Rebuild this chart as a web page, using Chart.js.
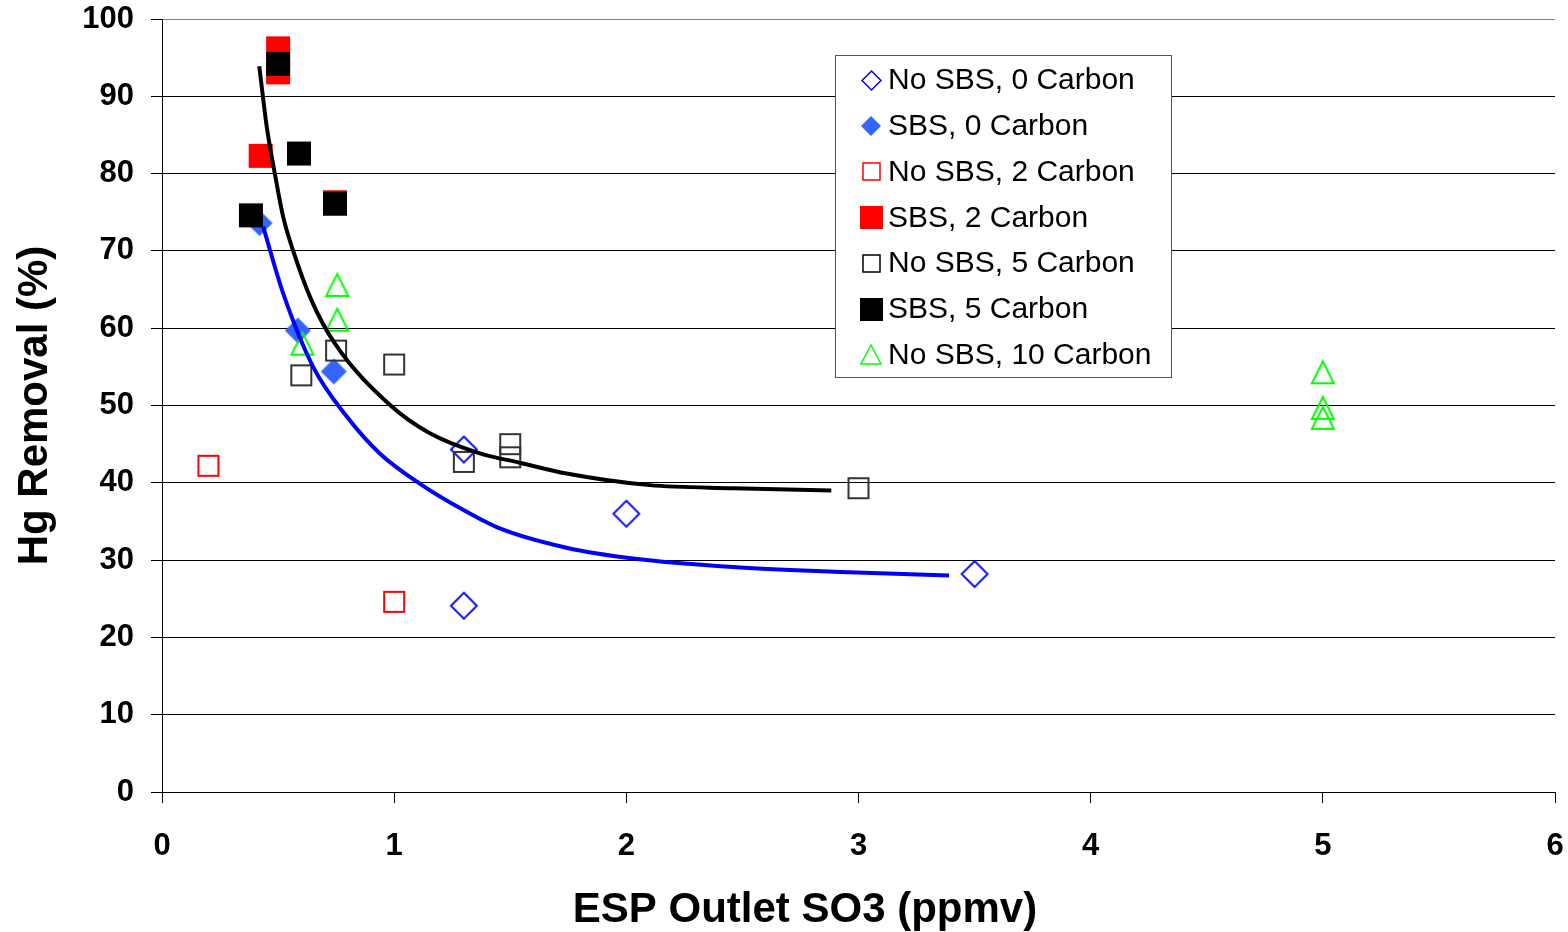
<!DOCTYPE html>
<html>
<head>
<meta charset="utf-8">
<script src="https://cdn.jsdelivr.net/npm/chart.js@4.4.1/dist/chart.umd.min.js"></script>
<style>
  html, body { margin: 0; padding: 0; background: #fff; }
  #wrap { width: 1568px; height: 932px; }
</style>
</head>
<body>
<div id="wrap"><canvas id="myChart" width="1568" height="932"></canvas></div>
<script>
// measured points, ESP outlet SO3 (ppmv) vs Hg removal (%)
let noSbs0X = [1.3, 1.3, 2.0, 3.5];
let noSbs0Y = [44.3, 24.1, 36.0, 28.2];
let sbs0X = [0.42, 0.585, 0.74];
let sbs0Y = [73.6, 59.7, 54.4];
let noSbs2X = [0.2, 1.0];
let noSbs2Y = [42.2, 24.6];
let sbs2X = [0.5, 0.5, 0.425, 0.745];
let sbs2Y = [96.2, 93.1, 82.3, 76.3];
let noSbs5X = [0.6, 0.75, 1.0, 1.3, 1.5, 1.5, 3.0];
let noSbs5Y = [53.9, 57.1, 55.3, 42.7, 45.0, 43.3, 39.3];
let sbs5X = [0.5, 0.59, 0.383, 0.745];
let sbs5Y = [94.2, 82.6, 74.6, 76.1];
let noSbs10X = [0.755, 0.755, 0.605, 5.0, 5.0, 5.0];
let noSbs10Y = [65.6, 61.1, 58.0, 54.3, 49.7, 48.4];

// trend curves
let sbsCurveX = [0.419, 0.451, 0.486, 0.522, 0.565, 0.644, 0.745, 0.981, 1.154, 1.369, 1.541, 1.742, 2.10, 2.459, 2.883];
let sbsCurveY = [93.9, 86.1, 80.0, 74.4, 70.0, 63.6, 58.0, 50.1, 46.4, 43.8, 42.6, 41.2, 39.7, 39.3, 39.0];
let noSbsCurveX = [0.436, 0.522, 0.651, 0.795, 0.938, 1.11, 1.297, 1.455, 1.742, 2.029, 2.459, 2.89, 3.39];
let noSbsCurveY = [73.1, 64.5, 55.0, 48.6, 43.8, 39.9, 36.5, 34.1, 31.6, 30.2, 29.1, 28.5, 28.0];

let labels = ['No SBS, 0 Carbon', 'SBS, 0 Carbon', 'No SBS, 2 Carbon', 'SBS, 2 Carbon',
  'No SBS, 5 Carbon', 'SBS, 5 Carbon', 'No SBS, 10 Carbon'];
let xTicks = [0, 1, 2, 3, 4, 5, 6];
let yTicks = [0, 10, 20, 30, 40, 50, 60, 70, 80, 90, 100];
let xTitle = 'ESP Outlet SO3 (ppmv)';
let yTitle = 'Hg Removal (%)';

const FONT = '"Liberation Sans", Arial, sans-serif';

function marker(shape, w, h, stroke, fill, lw) {
  let c = document.createElement('canvas');
  c.width = Math.ceil(w + 4);
  c.height = Math.ceil(h + 4);
  let g = c.getContext('2d');
  let cx = c.width / 2, cy = c.height / 2;
  g.beginPath();
  if (shape === 'diamond') {
    g.moveTo(cx, cy - h / 2); g.lineTo(cx + w / 2, cy);
    g.lineTo(cx, cy + h / 2); g.lineTo(cx - w / 2, cy);
  } else if (shape === 'square') {
    g.rect(cx - w / 2, cy - h / 2, w, h);
  } else {
    g.moveTo(cx, cy - h / 2); g.lineTo(cx + w / 2, cy + h / 2); g.lineTo(cx - w / 2, cy + h / 2);
  }
  g.closePath();
  if (fill) { g.fillStyle = fill; g.fill(); }
  if (stroke) { g.strokeStyle = stroke; g.lineWidth = lw; g.stroke(); }
  return c;
}

let styles = [
  ['diamond', 26, 26, '#0000FF', null, 1.8],
  ['diamond', 26, 26, null, '#3366FF', 0],
  ['square', 20, 20, '#FF0000', null, 2],
  ['square', 24, 24, null, '#FF0000', 0],
  ['square', 20, 20, '#333333', null, 2],
  ['square', 24, 24, null, '#000000', 0],
  ['triangle', 22, 22, '#00FF00', null, 2]
];
let legendStyles = [
  ['diamond', 19, 19, '#0000FF', null, 1.5],
  ['diamond', 20, 20, null, '#3366FF', 0],
  ['square', 17, 17, '#FF0000', null, 1.5],
  ['square', 23, 23, null, '#FF0000', 0],
  ['square', 17, 17, '#000000', null, 1.5],
  ['square', 23, 23, null, '#000000', 0],
  ['triangle', 20, 19, '#00FF00', null, 1.5]
];

function pts(xs, ys) {
  return xs.map((x, i) => ({ x: x, y: ys[i] }));
}

let seriesX = [noSbs0X, sbs0X, noSbs2X, sbs2X, noSbs5X, sbs5X, noSbs10X];
let seriesY = [noSbs0Y, sbs0Y, noSbs2Y, sbs2Y, noSbs5Y, sbs5Y, noSbs10Y];

let datasets = labels.map((label, i) => ({
  label: label,
  data: pts(seriesX[i], seriesY[i]),
  pointStyle: marker.apply(null, styles[i]),
  pointRadius: 12,
  order: 10 - i
}));
datasets.push({
  label: 'SBS trend',
  data: pts(sbsCurveX, sbsCurveY),
  showLine: true,
  borderColor: '#000000',
  borderWidth: 4,
  pointRadius: 0,
  cubicInterpolationMode: 'monotone',
  order: 0
});
datasets.push({
  label: 'No SBS trend',
  data: pts(noSbsCurveX, noSbsCurveY),
  showLine: true,
  borderColor: '#0000FF',
  borderWidth: 4,
  pointRadius: 0,
  cubicInterpolationMode: 'monotone',
  order: 0
});

// legend box inside the plot + x title (Excel centres it off the plot middle)
let boxLegend = {
  id: 'boxLegend',
  afterDraw(chart) {
    let ctx = chart.ctx;
    ctx.save();
    ctx.fillStyle = '#ffffff';
    ctx.fillRect(835, 55, 336, 322);
    ctx.strokeStyle = '#555555';
    ctx.lineWidth = 1;
    ctx.strokeRect(835.5, 55.5, 336, 322);
    ctx.font = '30px ' + FONT;
    ctx.fillStyle = '#000';
    ctx.textBaseline = 'middle';
    labels.forEach((label, i) => {
      let y = 80 + i * 45.8;
      let m = marker.apply(null, legendStyles[i]);
      ctx.drawImage(m, Math.round(871 - m.width / 2), Math.round(y - m.height / 2));
      ctx.fillText(label, 888, y + 1);
    });
    ctx.font = 'bold 42px ' + FONT;
    ctx.textAlign = 'center';
    ctx.fillText(xTitle, 805, 910);
    ctx.restore();
  }
};

let ctx = document.getElementById('myChart').getContext('2d');
let myChart = new Chart(ctx, {
  type: 'scatter',
  data: { datasets: datasets },
  plugins: [boxLegend],
  options: {
    responsive: false,
    animation: false,
    layout: { padding: { top: 19, right: 12, left: 0, bottom: 0 } },
    plugins: { legend: { display: false }, tooltip: { enabled: false } },
    scales: {
      x: {
        type: 'linear',
        min: 0,
        max: 6,
        afterFit: (s) => { s.height = 140; s.paddingLeft = 0; s.paddingRight = 0; },
        afterBuildTicks: (s) => { s.ticks = xTicks.map(v => ({ value: v })); },
        ticks: { color: '#000', font: { family: FONT, size: 31, weight: 'bold' }, padding: 25, maxRotation: 0 },
        grid: { drawOnChartArea: false, drawTicks: true, tickLength: 11, color: '#000', lineWidth: 1 },
        border: { color: '#000', width: 1 },
        title: { display: false }
      },
      y: {
        min: 0,
        max: 100,
        afterFit: (s) => { s.width = 162; s.paddingTop = 0; s.paddingBottom = 0; },
        afterBuildTicks: (s) => { s.ticks = yTicks.map(v => ({ value: v })); },
        ticks: { color: '#000', font: { family: FONT, size: 31, weight: 'bold' }, padding: 17 },
        grid: {
          color: (c) => (c.tick && c.tick.value === 100 ? '#808080' : '#000'),
          tickColor: '#000',
          tickLength: 11,
          lineWidth: 1
        },
        border: { color: '#000', width: 1 },
        title: {
          display: true,
          text: yTitle,
          color: '#000',
          font: { family: FONT, size: 42, weight: 'bold' },
          padding: { top: 10, bottom: 0 }
        }
      }
    }
  }
});
</script>
</body>
</html>
